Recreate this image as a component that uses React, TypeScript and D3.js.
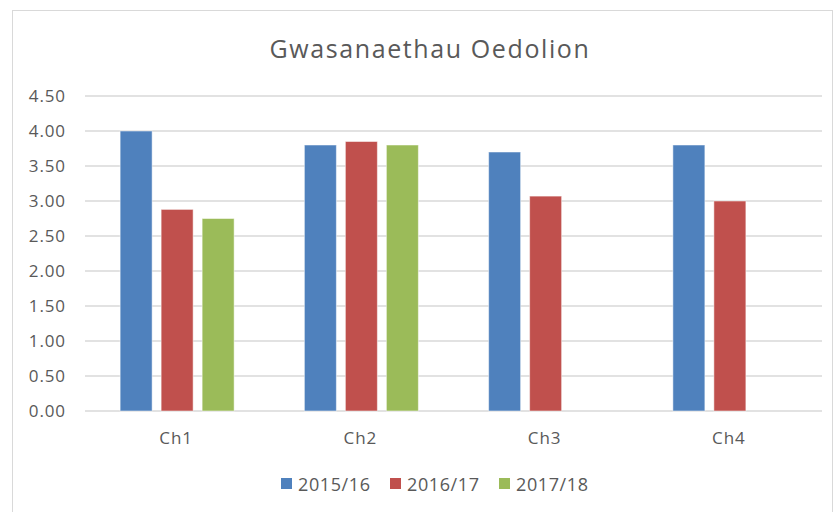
import React from "react";
import * as d3 from "d3";

const categories = ["Ch1", "Ch2", "Ch3", "Ch4"];
const seriesNames = ["2015/16", "2016/17", "2017/18"];
const s2015 = [4.0, 3.8, 3.7, 3.8];
const s2016 = [2.88, 3.85, 3.07, 3.0];
const s2017: (number | null)[] = [2.75, 3.8, null, null];
const yTicks = [0, 0.5, 1, 1.5, 2, 2.5, 3, 3.5, 4, 4.5];
const colors = ["#4F81BD", "#C0504D", "#9BBB59"];
const title = "Gwasanaethau Oedolion";

const W = 834;
const H = 512;
const font = "'Open Sans', 'Segoe UI', sans-serif";
const textColor = "#595959";

export default function App() {
  const series = [s2015, s2016, s2017];
  const x = d3.scaleBand<string>().domain(categories).range([85, 822]).padding(0);
  const y = d3.scaleLinear().domain([0, 4.5]).range([411, 96]);
  const barW = 32;
  const step = 41;
  const xs = d3.scaleBand<number>().domain([0, 1, 2]).range([0, step * 3 - (step - barW)]).paddingInner((step - barW) / step);

  const legendX = [281, 390, 499];

  return (
    <svg width={W} height={H} style={{ position: "absolute", left: 0, top: 0, background: "#fff" }}>
      <rect x={12.5} y={10.5} width={820} height={510} fill="#fff" stroke="#D9D9D9" strokeWidth={1} />
      <text x={430} y={58} textAnchor="middle" fontFamily={font} fontSize={25} letterSpacing={1.6} fill={textColor}>
        {title}
      </text>
      {yTicks.map((t) => (
        <g key={t}>
          <line x1={85} x2={822} y1={y(t)} y2={y(t)} stroke="#D9D9D9" strokeWidth={1.5} />
          <text x={66} y={y(t)} dy="0.35em" textAnchor="end" fontFamily={font} fontSize={17} letterSpacing={0.9} fill={textColor}>
            {t.toFixed(2)}
          </text>
        </g>
      ))}
      {categories.map((c, ci) => {
        const bw = x.bandwidth();
        const groupW = xs.range()[1];
        const gx = (x(c) as number) + (bw - groupW) / 2;
        return (
          <g key={c}>
            {series.map((s, si) => {
              const v = s[ci];
              if (v == null) return null;
              return (
                <rect
                  key={si}
                  x={gx + (xs(si) as number)}
                  y={y(v)}
                  width={xs.bandwidth()}
                  height={y(0) - y(v)}
                  fill={colors[si]}
                  stroke="#fff"
                  strokeOpacity={0.5}
                  strokeWidth={1}
                />
              );
            })}
            <text x={(x(c) as number) + bw / 2 - 1} y={444} textAnchor="middle" fontFamily={font} fontSize={17} letterSpacing={1} fill={textColor}>
              {c}
            </text>
          </g>
        );
      })}
      {seriesNames.map((n, i) => (
        <g key={n}>
          <rect x={legendX[i]} y={478} width={11} height={11} fill={colors[i]} />
          <text x={legendX[i] + 17} y={491} fontFamily={font} fontSize={18} letterSpacing={0.6} fill={textColor}>
            {n}
          </text>
        </g>
      ))}
    </svg>
  );
}
